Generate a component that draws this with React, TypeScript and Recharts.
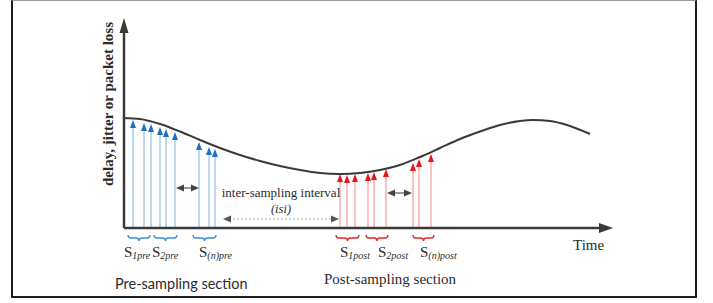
import { ComposedChart, Line, XAxis, YAxis, ReferenceLine, ReferenceDot } from "recharts";

// curve: time vs. delay/jitter/loss level
const CURVE_T = [0, 16, 36, 56, 76, 96, 116, 136, 156, 176, 196, 216, 236, 256, 276, 296, 316, 336, 356, 376, 396, 409, 426, 443, 466];
const CURVE_V = [110, 109, 104, 96.5, 88, 80, 73, 67, 62, 58, 55, 54, 55, 58, 63, 71, 80, 89, 96.5, 103, 107, 108, 107, 103, 94];

// sampling instants and the value each sample reaches
const PRE_T = [9, 20, 27, 36, 42, 51, 75, 85, 91];
const PRE_TIP = [108, 105, 104, 101, 99, 96, 86, 81, 79];
const POST_T = [216, 223, 231, 244, 250, 262, 289, 295, 307];
const POST_TIP = [54, 53, 54, 55, 56, 59, 65, 69, 74];

// groups of samples
const PRE_BRACES = [[4, 26], [30, 53], [69, 92]];
const POST_BRACES = [[212, 235], [242, 264], [289, 310]];
const PRE_LABELS = ["1pre", "2pre", "(n)pre"];
const PRE_LABEL_T = [0, 28, 75];
const POST_LABELS = ["1post", "2post", "(n)post"];
const POST_LABEL_T = [216, 254, 296];

// spacing arrows
const PRE_GAP = [52, 75];
const POST_GAP = [263, 288];
const ISI = [99, 215];

const curveData = CURVE_T.map((t, i) => ({ t, v: CURVE_V[i] }));

const SERIF = "'Liberation Serif', 'Times New Roman', serif";
const SANS = "Lato, 'Liberation Sans', sans-serif";
const INK = "#2b2b2b";

const sampleArrow = (lineColor: string, headColor: string) => (p: any) => {
  const { x1, y1, x2, y2 } = p;
  return (
    <g>
      <line x1={x1} y1={y1} x2={x2} y2={y2 + 6} stroke={lineColor} strokeWidth={1.3} />
      <polygon points={`${x2},${y2} ${x2 - 3},${y2 + 8} ${x2 + 3},${y2 + 8}`} fill={headColor} />
    </g>
  );
};

const doubleArrow = (lineColor: string, headColor: string, dash?: string) => (p: any) => {
  const { x1, y1, x2 } = p;
  const y = y1;
  return (
    <g>
      <line x1={x1 + 6} y1={y} x2={x2 - 6} y2={y} stroke={lineColor} strokeWidth={1.2} strokeDasharray={dash} />
      <polygon points={`${x1},${y} ${x1 + 8},${y - 3.5} ${x1 + 8},${y + 3.5}`} fill={headColor} />
      <polygon points={`${x2},${y} ${x2 - 8},${y - 3.5} ${x2 - 8},${y + 3.5}`} fill={headColor} />
    </g>
  );
};

const brace = (color: string) => (p: any) => {
  const { x1, y1, x2 } = p;
  const y = y1;
  const m = (x1 + x2) / 2;
  const d = `M${x1},${y} Q${x1},${y + 3} ${x1 + 3},${y + 3} L${m - 3},${y + 3} Q${m},${y + 3} ${m},${y + 6} Q${m},${y + 3} ${m + 3},${y + 3} L${x2 - 3},${y + 3} Q${x2},${y + 3} ${x2},${y}`;
  return <path d={d} fill="none" stroke={color} strokeWidth={1.3} />;
};

const sLabel = (sub: string) => (p: any) => (
  <text x={p.cx} y={p.cy} fontFamily={SERIF} fill={INK} fontSize={15}>
    S
    <tspan fontSize={10} fontStyle="italic" dy={2}>
      {sub}
    </tspan>
  </text>
);

const plainText = (txt: string, opts: any) => (p: any) => (
  <text x={p.cx} y={p.cy} fill={INK} {...opts}>
    {txt}
  </text>
);

export default function App() {
  return (
    <div style={{ position: "absolute", left: 0, top: 0, width: 713, height: 303, background: "#fff" }}>
      <div
        style={{
          position: "absolute",
          left: 11,
          top: 0,
          width: 682,
          height: 295,
          border: "2px solid #1e1e1e",
          borderTop: "1px solid #9a9a9a",
        }}
      />
      <div style={{ position: "absolute", left: 0, top: 0 }}>
        <ComposedChart
          width={713}
          height={303}
          data={curveData}
          margin={{ top: 26, right: 109, bottom: 45, left: 64 }}
        >
          <XAxis
            dataKey="t"
            type="number"
            domain={[0, 480]}
            allowDataOverflow
            height={30}
            tick={false}
            tickLine={false}
            axisLine={{ stroke: "#3a3a3a", strokeWidth: 2.5 }}
          />
          <YAxis
            type="number"
            domain={[0, 202]}
            allowDataOverflow
            width={60}
            tick={false}
            tickLine={false}
            axisLine={{ stroke: "#3a3a3a", strokeWidth: 2.5 }}
          />

          {/* axis arrow heads */}
          <ReferenceDot
            x={480}
            y={0}
            r={0}
            ifOverflow="visible"
            shape={(p: any) => (
              <polygon points={`${p.cx + 9},${p.cy} ${p.cx - 5},${p.cy - 5} ${p.cx - 5},${p.cy + 5}`} fill="#3a3a3a" />
            )}
          />
          <ReferenceDot
            x={0}
            y={202}
            r={0}
            ifOverflow="visible"
            shape={(p: any) => (
              <polygon points={`${p.cx},${p.cy - 8} ${p.cx - 4.5},${p.cy + 7} ${p.cx + 4.5},${p.cy + 7}`} fill="#3a3a3a" />
            )}
          />

          {/* samples */}
          {PRE_T.map((t, i) => (
            <ReferenceLine
              key={`pre-${i}`}
              segment={[{ x: t, y: 0 }, { x: t, y: PRE_TIP[i] }]}
              ifOverflow="visible"
              shape={sampleArrow("#9cc3e4", "#1f6fc2")}
            />
          ))}
          {POST_T.map((t, i) => (
            <ReferenceLine
              key={`post-${i}`}
              segment={[{ x: t, y: 0 }, { x: t, y: POST_TIP[i] }]}
              ifOverflow="visible"
              shape={sampleArrow("#f3a3a6", "#e8141e")}
            />
          ))}

          <Line
            type="monotone"
            dataKey="v"
            stroke="#3a3a3a"
            strokeWidth={2}
            dot={false}
            activeDot={false}
            isAnimationActive={false}
          />

          {/* spacing arrows */}
          <ReferenceLine
            segment={[{ x: PRE_GAP[0], y: 40 }, { x: PRE_GAP[1], y: 40 }]}
            ifOverflow="visible"
            shape={doubleArrow("#555", "#444")}
          />
          <ReferenceLine
            segment={[{ x: POST_GAP[0], y: 35 }, { x: POST_GAP[1], y: 35 }]}
            ifOverflow="visible"
            shape={doubleArrow("#555", "#444")}
          />
          <ReferenceLine
            segment={[{ x: ISI[0], y: 9 }, { x: ISI[1], y: 9 }]}
            ifOverflow="visible"
            shape={doubleArrow("#aaa", "#555", "2 2")}
          />
          <ReferenceDot
            x={157}
            y={31}
            r={0}
            ifOverflow="visible"
            shape={plainText("inter-sampling interval", { fontFamily: SERIF, fontSize: 13, textAnchor: "middle" })}
          />
          <ReferenceDot
            x={157}
            y={15}
            r={0}
            ifOverflow="visible"
            shape={plainText("(isi)", { fontFamily: SERIF, fontSize: 12.5, fontStyle: "italic", textAnchor: "middle" })}
          />

          {/* braces */}
          {PRE_BRACES.map((b, i) => (
            <ReferenceLine
              key={`pb-${i}`}
              segment={[{ x: b[0], y: -7 }, { x: b[1], y: -7 }]}
              ifOverflow="visible"
              shape={brace("#3b8fd4")}
            />
          ))}
          {POST_BRACES.map((b, i) => (
            <ReferenceLine
              key={`qb-${i}`}
              segment={[{ x: b[0], y: -7 }, { x: b[1], y: -7 }]}
              ifOverflow="visible"
              shape={brace("#e3262e")}
            />
          ))}

          {/* sample labels */}
          {PRE_LABELS.map((s, i) => (
            <ReferenceDot key={`pl-${i}`} x={PRE_LABEL_T[i]} y={-29} r={0} ifOverflow="visible" shape={sLabel(s)} />
          ))}
          {POST_LABELS.map((s, i) => (
            <ReferenceDot key={`ql-${i}`} x={POST_LABEL_T[i]} y={-29} r={0} ifOverflow="visible" shape={sLabel(s)} />
          ))}

          <ReferenceDot
            x={-9}
            y={-61}
            r={0}
            ifOverflow="visible"
            shape={plainText("Pre-sampling section", { fontFamily: SANS, fontSize: 14.5 })}
          />
          <ReferenceDot
            x={200}
            y={-56}
            r={0}
            ifOverflow="visible"
            shape={plainText("Post-sampling section", { fontFamily: SERIF, fontSize: 15 })}
          />
          <ReferenceDot
            x={449}
            y={-22}
            r={0}
            ifOverflow="visible"
            shape={plainText("Time", { fontFamily: SERIF, fontSize: 15 })}
          />
          <ReferenceDot
            x={-11}
            y={124}
            r={0}
            ifOverflow="visible"
            shape={(p: any) => (
              <text
                x={p.cx}
                y={p.cy}
                transform={`rotate(-90, ${p.cx}, ${p.cy})`}
                textAnchor="middle"
                fontFamily={SERIF}
                fontWeight="bold"
                fontSize={15}
                fill={INK}
              >
                delay, jitter or packet loss
              </text>
            )}
          />
        </ComposedChart>
      </div>
    </div>
  );
}
